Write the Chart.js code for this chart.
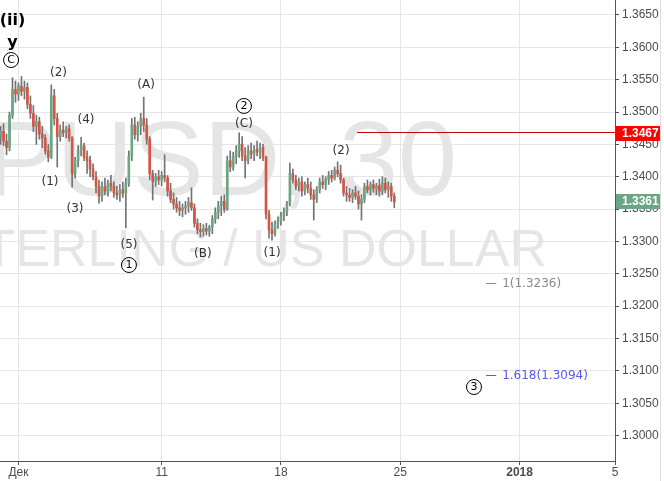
<!DOCTYPE html>
<html>
<head>
<meta charset="utf-8">
<script src="https://cdn.jsdelivr.net/npm/chart.js@4.4.1/dist/chart.umd.min.js"></script>
<style>
  html, body { margin: 0; padding: 0; background: #fff; }
</style>
</head>
<body>
<canvas id="chart" width="664" height="481"></canvas>
<script>
// GBPUSD 30m chart in ~3 hour buckets
// x is counted in trading days from Dec 1 (weekends skipped)
const barStart = -0.75;
const barStep = 0.125;

const opens = [
  1.3462, 1.3470, 1.3455, 1.3445, 1.3495, 1.3535, 1.3528, 1.3540, 1.3532, 1.3538,
  1.3512, 1.3498, 1.3478, 1.3485, 1.3466, 1.3460, 1.3440, 1.3430, 1.3525, 1.3490,
  1.3462, 1.3472, 1.3468, 1.3474, 1.3460, 1.3405, 1.3425, 1.3440, 1.3448, 1.3430,
  1.3425, 1.3412, 1.3400, 1.3385, 1.3370, 1.3385, 1.3378, 1.3390, 1.3385, 1.3375,
  1.3372, 1.3380, 1.3375, 1.3390, 1.3432, 1.3480, 1.3465, 1.3478, 1.3490, 1.3480,
  1.3458, 1.3405, 1.3392, 1.3400, 1.3395, 1.3402, 1.3398, 1.3378, 1.3365, 1.3358,
  1.3352, 1.3348, 1.3352, 1.3355, 1.3360, 1.3352, 1.3328, 1.3318, 1.3315, 1.3320,
  1.3316, 1.3322, 1.3335, 1.3345, 1.3355, 1.3362, 1.3350, 1.3425, 1.3415, 1.3432,
  1.3440, 1.3450, 1.3432, 1.3425, 1.3440, 1.3435, 1.3442, 1.3438, 1.3445, 1.3430,
  1.3342, 1.3318, 1.3312, 1.3328, 1.3332, 1.3340, 1.3346, 1.3358, 1.3405, 1.3395,
  1.3386, 1.3392, 1.3378, 1.3388, 1.3382, 1.3372, 1.3365, 1.3380, 1.3392, 1.3388,
  1.3396, 1.3402, 1.3398, 1.3410, 1.3405, 1.3395, 1.3375, 1.3372, 1.3368, 1.3375,
  1.3370, 1.3358, 1.3365, 1.3385, 1.3380, 1.3388, 1.3382, 1.3386, 1.3378, 1.3390,
  1.3380, 1.3385, 1.3370
];
const highs = [
  1.3478, 1.3482, 1.3466, 1.3500, 1.3553, 1.3548, 1.3545, 1.3555, 1.3548, 1.3545,
  1.3525, 1.3510, 1.3495, 1.3492, 1.3478, 1.3465, 1.3450, 1.3542, 1.3535, 1.3498,
  1.3480, 1.3485, 1.3478, 1.3480, 1.3462, 1.3430, 1.3448, 1.3461, 1.3452, 1.3440,
  1.3432, 1.3420, 1.3408, 1.3395, 1.3392, 1.3398, 1.3395, 1.3402, 1.3392, 1.3385,
  1.3388, 1.3392, 1.3398, 1.3440, 1.3490, 1.3492, 1.3485, 1.3498, 1.3523, 1.3490,
  1.3462, 1.3410, 1.3405, 1.3410, 1.3408, 1.3434, 1.3402, 1.3390, 1.3375, 1.3368,
  1.3362, 1.3358, 1.3362, 1.3368, 1.3383, 1.3358, 1.3335, 1.3328, 1.3326, 1.3328,
  1.3325, 1.3340, 1.3352, 1.3362, 1.3370, 1.3372, 1.3432, 1.3440, 1.3438, 1.3448,
  1.3468, 1.3462, 1.3445, 1.3448, 1.3452, 1.3448, 1.3455, 1.3452, 1.3450, 1.3432,
  1.3348, 1.3330, 1.3332, 1.3338, 1.3345, 1.3352, 1.3362, 1.3421, 1.3412, 1.3402,
  1.3398, 1.3400, 1.3392, 1.3398, 1.3392, 1.3380, 1.3385, 1.3398, 1.3402, 1.3400,
  1.3408, 1.3410, 1.3415, 1.3423, 1.3418, 1.3398, 1.3385, 1.3382, 1.3380, 1.3385,
  1.3378, 1.3372, 1.3390, 1.3395, 1.3392, 1.3395, 1.3390, 1.3396, 1.3400, 1.3398,
  1.3392, 1.3390, 1.3375
];
const lows = [
  1.3450, 1.3448, 1.3434, 1.3440, 1.3490, 1.3515, 1.3518, 1.3525, 1.3520, 1.3505,
  1.3490, 1.3470, 1.3450, 1.3458, 1.3445, 1.3435, 1.3423, 1.3428, 1.3480, 1.3415,
  1.3455, 1.3462, 1.3460, 1.3455, 1.3384, 1.3398, 1.3415, 1.3432, 1.3425, 1.3405,
  1.3400, 1.3395, 1.3375, 1.3359, 1.3362, 1.3372, 1.3370, 1.3378, 1.3368, 1.3365,
  1.3362, 1.3368, 1.3321, 1.3385, 1.3425, 1.3458, 1.3455, 1.3465, 1.3470, 1.3450,
  1.3395, 1.3364, 1.3385, 1.3388, 1.3386, 1.3392, 1.3370, 1.3360, 1.3350, 1.3345,
  1.3340, 1.3338, 1.3342, 1.3345, 1.3348, 1.3322, 1.3312, 1.3307, 1.3308, 1.3310,
  1.3308, 1.3312, 1.3328, 1.3335, 1.3340, 1.3345, 1.3348, 1.3408, 1.3410, 1.3420,
  1.3430, 1.3425, 1.3398, 1.3420, 1.3428, 1.3425, 1.3432, 1.3428, 1.3425, 1.3335,
  1.3305, 1.3302, 1.3308, 1.3320, 1.3325, 1.3332, 1.3340, 1.3355, 1.3390, 1.3380,
  1.3378, 1.3370, 1.3372, 1.3375, 1.3365, 1.3333, 1.3360, 1.3375, 1.3382, 1.3380,
  1.3388, 1.3392, 1.3395, 1.3400, 1.3390, 1.3370, 1.3362, 1.3362, 1.3360, 1.3365,
  1.3350, 1.3333, 1.3360, 1.3375, 1.3372, 1.3376, 1.3372, 1.3370, 1.3372, 1.3375,
  1.3368, 1.3362, 1.3352
];
const closes = [
  1.3470, 1.3455, 1.3445, 1.3495, 1.3535, 1.3528, 1.3540, 1.3532, 1.3538, 1.3512,
  1.3498, 1.3478, 1.3485, 1.3466, 1.3460, 1.3440, 1.3430, 1.3525, 1.3490, 1.3462,
  1.3472, 1.3468, 1.3474, 1.3460, 1.3405, 1.3425, 1.3440, 1.3448, 1.3430, 1.3425,
  1.3412, 1.3400, 1.3385, 1.3370, 1.3385, 1.3378, 1.3390, 1.3385, 1.3375, 1.3372,
  1.3380, 1.3375, 1.3390, 1.3432, 1.3480, 1.3465, 1.3478, 1.3490, 1.3480, 1.3458,
  1.3405, 1.3392, 1.3400, 1.3395, 1.3402, 1.3398, 1.3378, 1.3365, 1.3358, 1.3352,
  1.3348, 1.3352, 1.3355, 1.3360, 1.3352, 1.3328, 1.3318, 1.3315, 1.3320, 1.3316,
  1.3322, 1.3335, 1.3345, 1.3355, 1.3362, 1.3350, 1.3425, 1.3415, 1.3432, 1.3440,
  1.3450, 1.3432, 1.3425, 1.3440, 1.3435, 1.3442, 1.3438, 1.3445, 1.3430, 1.3342,
  1.3318, 1.3312, 1.3328, 1.3332, 1.3340, 1.3346, 1.3358, 1.3405, 1.3395, 1.3386,
  1.3392, 1.3378, 1.3388, 1.3382, 1.3372, 1.3365, 1.3380, 1.3392, 1.3388, 1.3396,
  1.3402, 1.3398, 1.3410, 1.3405, 1.3395, 1.3375, 1.3372, 1.3368, 1.3375, 1.3370,
  1.3358, 1.3365, 1.3385, 1.3380, 1.3388, 1.3382, 1.3386, 1.3378, 1.3390, 1.3380,
  1.3385, 1.3370, 1.3361
];

const tickDays = [0, 6, 11, 16, 21, 25];
const tickLabels = ['Дек', '11', '18', '25', '2018', '5'];
const priceTicks = [1.3000, 1.3050, 1.3100, 1.3150, 1.3200, 1.3250, 1.3300,
  1.3350, 1.3400, 1.3450, 1.3500, 1.3550, 1.3600, 1.3650];

const watermark = ['GBPUSD, 30', 'POUND STERLING / US DOLLAR'];

// horizontal level drawn from the (2) area to the axis
const levelPrice = 1.3467;
const levelStartDay = 14.19;

// elliott wave labels (day, price anchors)
const topWaveText = ['(ii)', 'y'];
const topWaveDay = [-0.25, -0.25];
const topWavePrice = [1.36407, 1.36067];

const circledText = ['C', '1', '2', '3'];
const circledDay = [-0.31, 4.63, 9.45, 19.09];
const circledPrice = [1.35804, 1.32636, 1.35094, 1.30750];

const minorText = ['(2)', '(A)', '(4)', '(1)', '(3)', '(5)', '(C)', '(B)', '(1)', '(2)'];
const minorDay = [1.68, 5.35, 2.83, 1.32, 2.37, 4.63, 9.45, 7.73, 10.63, 13.52];
const minorPrice = [1.35604, 1.35418, 1.34877, 1.33919, 1.33502, 1.32945, 1.34815, 1.32806, 1.32822, 1.34398];

// fibonacci extension targets
const fibText = ['1(1.3236)', '1.618(1.3094)'];
const fibPrice = [1.3236, 1.3094];
const fibDay = 19.6;

const GREEN = '#6ba583';
const RED = '#d75442';
const WICK = '#737375';
const AXIS_TEXT = '#4c4c4c';
const GRID = '#e5e5e5';

const candleX = opens.map((_, i) => barStart + i * barStep);
const wickData = candleX.map((x, i) => ({ x: x, y: [lows[i], highs[i]] }));
const bodyData = candleX.map((x, i) => ({ x: x, y: [opens[i], closes[i]] }));
const bodyColors = closes.map((c, i) => c >= opens[i] ? GREEN : RED);

const overlay = {
  id: 'overlay',
  beforeDraw(chart) {
    const { ctx, chartArea: a } = chart;
    ctx.save();
    ctx.fillStyle = '#fff';
    ctx.fillRect(0, 0, chart.width, chart.height);
    ctx.beginPath();
    ctx.rect(a.left, a.top, a.right - a.left, a.bottom - a.top);
    ctx.clip();
    ctx.fillStyle = 'rgba(0,0,0,0.1)';
    ctx.textAlign = 'right';
    ctx.textBaseline = 'alphabetic';
    ctx.font = '106px "Liberation Sans"';
    ctx.fillText(watermark[0], 457, 195);
    ctx.font = '52px "Liberation Sans"';
    ctx.fillText(watermark[1], 547, 266);
    ctx.restore();
  },
  afterDatasetsDraw(chart) {
    const { ctx, chartArea: a } = chart;
    const xs = chart.scales.x, ys = chart.scales.y;
    ctx.save();

    // level line
    const ly = Math.round(ys.getPixelForValue(levelPrice)) - 0.5;
    ctx.strokeStyle = '#cc0000';
    ctx.lineWidth = 1;
    ctx.beginPath();
    ctx.moveTo(xs.getPixelForValue(levelStartDay), ly);
    ctx.lineTo(a.right, ly);
    ctx.stroke();

    ctx.textAlign = 'center';
    ctx.textBaseline = 'middle';

    ctx.fillStyle = '#000';
    ctx.font = 'bold 16px "DejaVu Sans"';
    topWaveText.forEach((t, i) => {
      ctx.fillText(t, xs.getPixelForValue(topWaveDay[i]), ys.getPixelForValue(topWavePrice[i]));
    });

    ctx.fillStyle = '#333';
    ctx.font = '12px "DejaVu Sans"';
    minorText.forEach((t, i) => {
      ctx.fillText(t, xs.getPixelForValue(minorDay[i]), ys.getPixelForValue(minorPrice[i]));
    });

    ctx.font = '11px "DejaVu Sans"';
    ctx.strokeStyle = '#000';
    circledText.forEach((t, i) => {
      const cx = xs.getPixelForValue(circledDay[i]);
      const cy = ys.getPixelForValue(circledPrice[i]);
      ctx.beginPath();
      ctx.arc(cx, cy, 7.5, 0, Math.PI * 2);
      ctx.stroke();
      ctx.fillStyle = '#000';
      ctx.fillText(t, cx, cy + 0.5);
    });

    const fibColors = ['#8a8a8a', '#5858ee'];
    ctx.textAlign = 'left';
    ctx.font = '12px "DejaVu Sans"';
    fibText.forEach((t, i) => {
      const fx = xs.getPixelForValue(fibDay);
      const fy = Math.round(ys.getPixelForValue(fibPrice[i])) + 0.5;
      ctx.strokeStyle = fibColors[i];
      ctx.beginPath();
      ctx.moveTo(fx, fy);
      ctx.lineTo(fx + 10, fy);
      ctx.stroke();
      ctx.fillStyle = fibColors[i];
      ctx.fillText(t, fx + 16, fy);
    });
    ctx.restore();
  },
  afterDraw(chart) {
    const { ctx, chartArea: a } = chart;
    const ys = chart.scales.y;
    ctx.save();
    ctx.strokeStyle = '#dcdcdc';
    ctx.beginPath();
    ctx.moveTo(chart.width - 3.5, 0);
    ctx.lineTo(chart.width - 3.5, chart.height);
    ctx.stroke();

    const badges = [[levelPrice, '#ff0000'], [closes[closes.length - 1], GREEN]];
    ctx.font = 'bold 12px "Liberation Sans"';
    ctx.textAlign = 'left';
    ctx.textBaseline = 'middle';
    badges.forEach(([v, col]) => {
      const y = ys.getPixelForValue(v);
      ctx.fillStyle = col;
      ctx.fillRect(a.right + 1, Math.round(y - 7.5), chart.width - 4 - a.right - 1, 15);
      ctx.fillStyle = '#fff';
      ctx.fillText(v.toFixed(4), a.right + 7, y);
    });
    ctx.restore();
  }
};

new Chart(document.getElementById('chart'), {
  type: 'bar',
  data: {
    datasets: [
      { data: bodyData, backgroundColor: bodyColors, barThickness: 2, grouped: false, order: 1, borderWidth: 0 },
      { data: wickData, backgroundColor: WICK, barThickness: 1, grouped: false, order: 2, borderWidth: 0 }
    ]
  },
  options: {
    responsive: false,
    animation: false,
    devicePixelRatio: 1,
    layout: { padding: 0 },
    plugins: { legend: { display: false }, tooltip: { enabled: false } },
    scales: {
      x: {
        type: 'linear',
        min: -0.774,
        max: 25,
        offset: false,
        grid: { color: GRID, tickColor: '#555', tickLength: 4, offset: false },
        border: { color: '#555' },
        ticks: {
          autoSkip: false,
          maxRotation: 0,
          padding: 0,
          color: AXIS_TEXT,
          font: (ctx) => ({ family: 'Liberation Sans', size: 12, weight: ctx.index === tickLabels.indexOf('2018') ? 'bold' : 'normal' }),
          callback: (v) => tickLabels[tickDays.indexOf(v)]
        },
        afterBuildTicks: (s) => { s.ticks = tickDays.map(v => ({ value: v })); },
        afterFit: (s) => { s.height = 20; s.paddingLeft = 0; s.paddingRight = 0; }
      },
      y: {
        position: 'right',
        min: 1.296066,
        max: 1.367318,
        grid: { color: GRID, tickColor: '#555', tickLength: 4 },
        border: { color: '#555' },
        ticks: {
          padding: 3,
          color: AXIS_TEXT,
          font: { family: 'Liberation Sans', size: 12 },
          callback: (v) => v.toFixed(4)
        },
        afterBuildTicks: (s) => { s.ticks = priceTicks.map(v => ({ value: v })); },
        afterFit: (s) => { s.width = 49; s.paddingTop = 0; s.paddingBottom = 0; }
      }
    }
  },
  plugins: [overlay]
});
</script>
</body>
</html>
